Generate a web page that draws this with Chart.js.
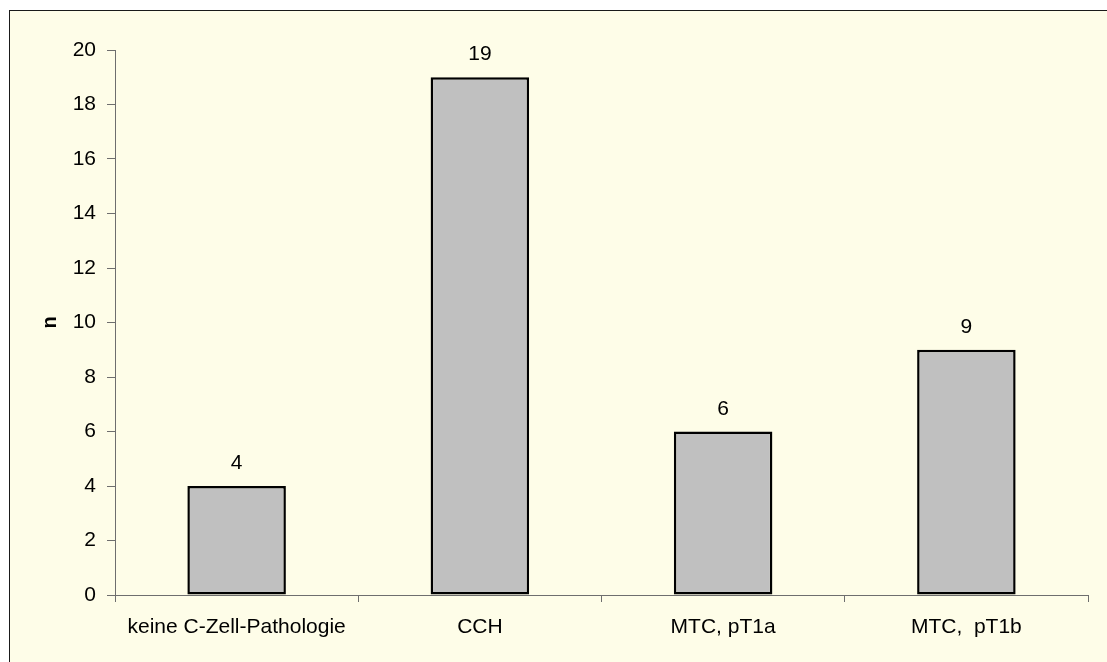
<!DOCTYPE html>
<html>
<head>
<meta charset="utf-8">
<script src="https://cdn.jsdelivr.net/npm/chart.js@4/dist/chart.umd.min.js"></script>
<style>
  html, body { margin: 0; padding: 0; background: #ffffff; overflow: hidden; }
  #frame {
    position: absolute; left: 9px; top: 10px; width: 1200px; height: 800px;
    background: #FEFDE8; border-left: 1px solid #1a1a1a; border-top: 1px solid #1a1a1a;
  }
  #wrap { position: absolute; left: 0; top: 0; width: 1107px; height: 662px; }
</style>
</head>
<body>
<div id="frame"></div>
<div id="wrap"><canvas id="chart" width="1107" height="662"></canvas></div>
<script>
// Fallzahlen je Gruppe
const categories = ['keine C-Zell-Pathologie', 'CCH', 'MTC, pT1a', 'MTC,  pT1b'];
const counts = [4, 19, 6, 9];
const yTicks = [0, 2, 4, 6, 8, 10, 12, 14, 16, 18, 20];

const FONT = 'Liberation Sans, Arial, sans-serif';

// Zahlen über den Säulen
const valueLabels = {
  id: 'valueLabels',
  afterDatasetsDraw(chart) {
    const ctx = chart.ctx;
    const meta = chart.getDatasetMeta(0);
    ctx.save();
    ctx.font = '21px ' + FONT;
    ctx.fillStyle = '#000';
    ctx.textAlign = 'center';
    ctx.textBaseline = 'alphabetic';
    meta.data.forEach((bar, i) => {
      ctx.fillText(String(chart.data.datasets[0].data[i]), bar.x, bar.y - 17);
    });
    ctx.restore();
  }
};

new Chart(document.getElementById('chart'), {
  type: 'bar',
  data: {
    labels: categories,
    datasets: [{
      data: counts,
      backgroundColor: '#C0C0C0',
      borderColor: '#000000',
      borderWidth: 2.5,
      borderSkipped: false,
      barPercentage: 0.405,
      categoryPercentage: 1.0
    }]
  },
  options: {
    responsive: false,
    animation: false,
    devicePixelRatio: 1,
    layout: { padding: { top: 50, right: 19, left: 0, bottom: 0 } },
    plugins: { legend: { display: false }, tooltip: { enabled: false } },
    scales: {
      x: {
        offset: true,
        grid: { display: true, drawOnChartArea: false, offset: true, tickLength: 7, color: '#6e6e6e', lineWidth: 1 },
        border: { display: true, color: '#6e6e6e', width: 1 },
        ticks: { color: '#000', font: { family: FONT, size: 21 }, padding: 13, maxRotation: 0, autoSkip: false },
        afterFit(s) { s.height = 67; }
      },
      y: {
        min: 0, max: 20,
        afterBuildTicks(s) { s.ticks = yTicks.map(v => ({ value: v })); },
        grid: { display: true, drawOnChartArea: false, tickLength: 8, color: '#6e6e6e', lineWidth: 1 },
        border: { display: true, color: '#6e6e6e', width: 1 },
        ticks: { color: '#000', font: { family: FONT, size: 21 }, padding: 11 },
        title: {
          display: true, text: 'n', color: '#000',
          font: { family: FONT, size: 20, weight: 'bold' },
          padding: { top: 38, bottom: 0 }
        },
        afterFit(s) { s.width = 115; }
      }
    }
  },
  plugins: [valueLabels]
});
</script>
</body>
</html>
